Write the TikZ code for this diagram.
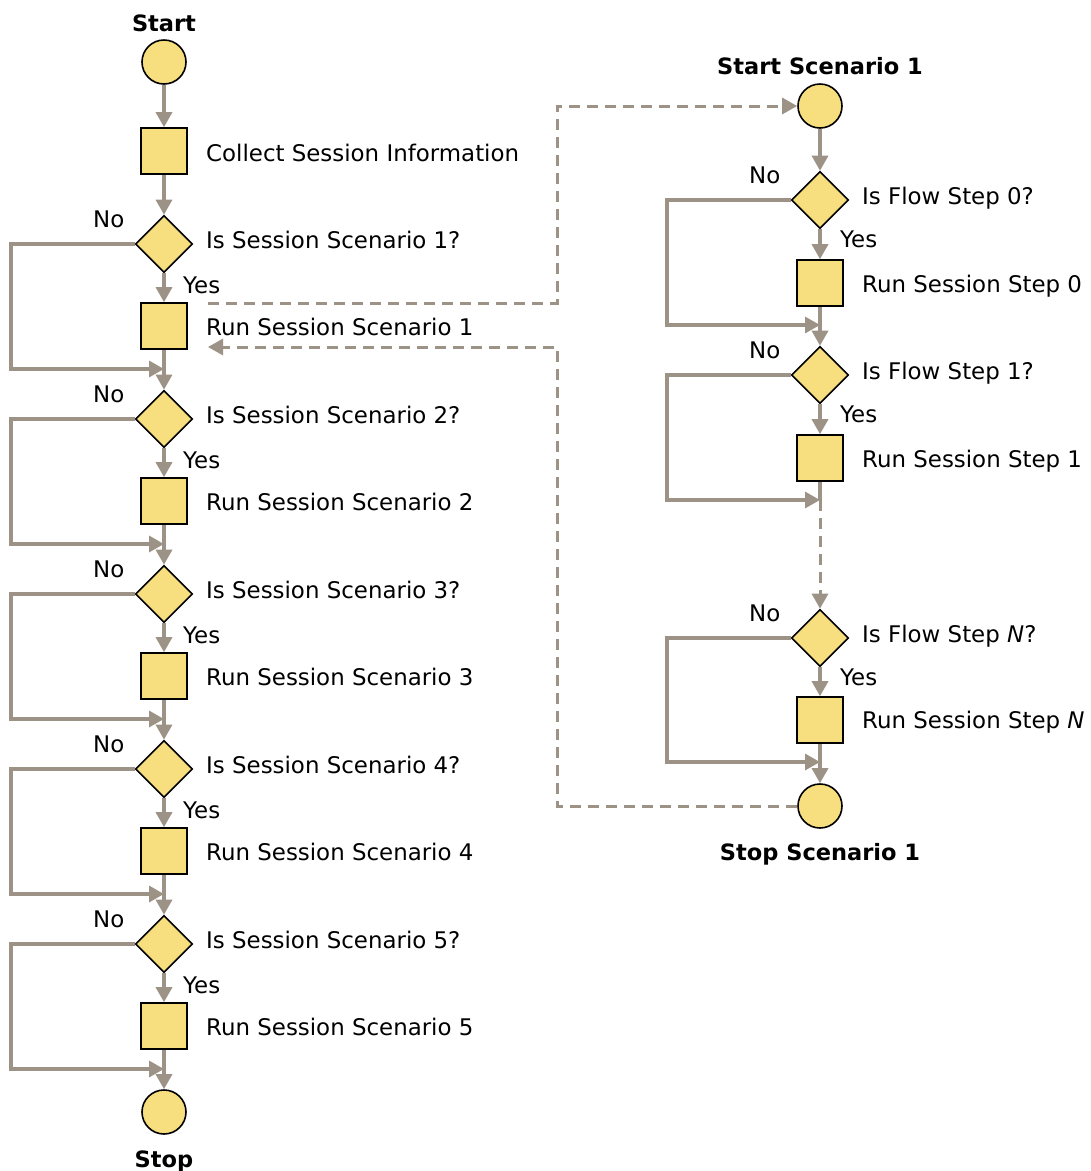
\documentclass[tikz,border=0pt]{standalone}
\usepackage{fontspec}
\setmainfont{DejaVu Sans}
\usetikzlibrary{shapes.geometric,arrows.meta}
\definecolor{boxfill}{HTML}{F7DF7F}
\definecolor{linkgray}{HTML}{9C9286}
\begin{document}
\begin{tikzpicture}[x=1pt,y=-1pt,
  every node/.style={font=\fontsize{22.9}{27}\selectfont},
  term/.style={circle,draw=black,line width=1.6pt,fill=boxfill,minimum size=44pt,inner sep=0pt},
  proc/.style={rectangle,draw=black,line width=1.6pt,fill=boxfill,minimum size=46pt,inner sep=0pt},
  test/.style={diamond,draw=black,line width=1.6pt,fill=boxfill,minimum width=57pt,minimum height=57pt,inner sep=0pt},
  lbl/.style={anchor=base west,inner sep=0pt},
  ttl/.style={anchor=base,inner sep=0pt,font=\fontsize{22.5}{27}\selectfont\bfseries},
  flow/.style={draw=linkgray,line width=3.3pt,-{Triangle[length=15pt,width=16pt]}},
  link/.style={draw=linkgray,line width=3.3pt},
  jump/.style={draw=linkgray,line width=3pt,dash pattern=on 11pt off 7pt,-{Triangle[length=15pt,width=16pt]}}
]
\path[use as bounding box] (0,0) rectangle (1091,1171);

% ---- main session flow ----
\node[term] (start) at (164,62) {};
\node[ttl] (startlbl) at (164,31) {Start};
\node[proc] (collect) at (164,151) {};
\node[lbl] (collectlbl) at (206,161) {Collect Session Information};
\draw[flow] (start) -- (collect);
\coordinate (lx) at (11,0);
\foreach \k in {1,...,5} {
  \pgfmathsetmacro\dy{244+175*(\k-1)}
  \node[test] (d\k) at (164,\dy) {};
  \node[proc] (s\k) at (164,\dy+82) {};
  \coordinate (j\k) at (164,\dy+125);
  \node[lbl] (dl\k) at (206,\dy+4) {Is Session Scenario \k?};
  \node[lbl] (sl\k) at (206,\dy+91) {Run Session Scenario \k};
  \node[lbl] (no\k) at (93,\dy-17) {No};
  \node[lbl] (yes\k) at (183,\dy+49) {Yes};
  \draw[flow] (d\k) -- (s\k);
  \draw[flow] (d\k.west) -- (d\k.west -| lx) |- (j\k);
}
\draw[flow] (collect) -- (d1);
\foreach \k [evaluate=\k as \n using int(\k+1)] in {1,...,4}
  \draw[flow] (s\k) -- (d\n);
\node[term] (stop) at (164,1112) {};
\node[ttl] (stoplbl) at (164,1167) {Stop};
\draw[flow] (s5) -- (stop);

% ---- scenario 1 detail ----
\node[term] (rstart) at (820,106) {};
\node[ttl] (rstartlbl) at (820,74) {Start Scenario 1};
\coordinate (rx) at (667,0);

\node[test] (f0) at (820,200) {};
\node[proc] (r0) at (820,283) {};
\coordinate (q0) at (820,325);
\node[lbl] at (862,204) {Is Flow Step 0?};
\node[lbl] at (862,292) {Run Session Step 0};
\node[lbl] at (749,183) {No};
\node[lbl] at (840,247) {Yes};

\node[test] (f1) at (820,375) {};
\node[proc] (r1) at (820,458) {};
\coordinate (q1) at (820,500);
\node[lbl] at (862,379) {Is Flow Step 1?};
\node[lbl] at (862,467) {Run Session Step 1};
\node[lbl] at (749,358) {No};
\node[lbl] at (840,422) {Yes};

\node[test] (fN) at (820,638) {};
\node[proc] (rN) at (820,720) {};
\coordinate (qN) at (820,762);
\node[lbl] at (862,642) {Is Flow Step \textit{N}?};
\node[lbl] at (862,728) {Run Session Step \textit{N}};
\node[lbl] at (749,621) {No};
\node[lbl] at (840,685) {Yes};

\node[term] (rstop) at (820,806) {};
\node[ttl] (rstoplbl) at (820,860) {Stop Scenario 1};

\draw[flow] (rstart) -- (f0);
\draw[flow] (f0) -- (r0);
\draw[flow] (f0.west) -- (f0.west -| rx) |- (q0);
\draw[flow] (r0) -- (f1);
\draw[flow] (f1) -- (r1);
\draw[flow] (f1.west) -- (f1.west -| rx) |- (q1);
\draw[link] (r1) -- (q1);
\draw[jump] (q1) -- (fN);
\draw[flow] (fN) -- (rN);
\draw[flow] (fN.west) -- (fN.west -| rx) |- (qN);
\draw[flow] (rN) -- (rstop);

% ---- hand-off between the two flows ----
\coordinate (cx) at (557,0);
\coordinate (outA) at (208,303);
\coordinate (backB) at (208,347);
\draw[jump] (outA) -- (outA -| cx) |- (rstart);
\draw[jump] (rstop) -- (rstop -| cx) |- (backB);
\end{tikzpicture}
\end{document}
